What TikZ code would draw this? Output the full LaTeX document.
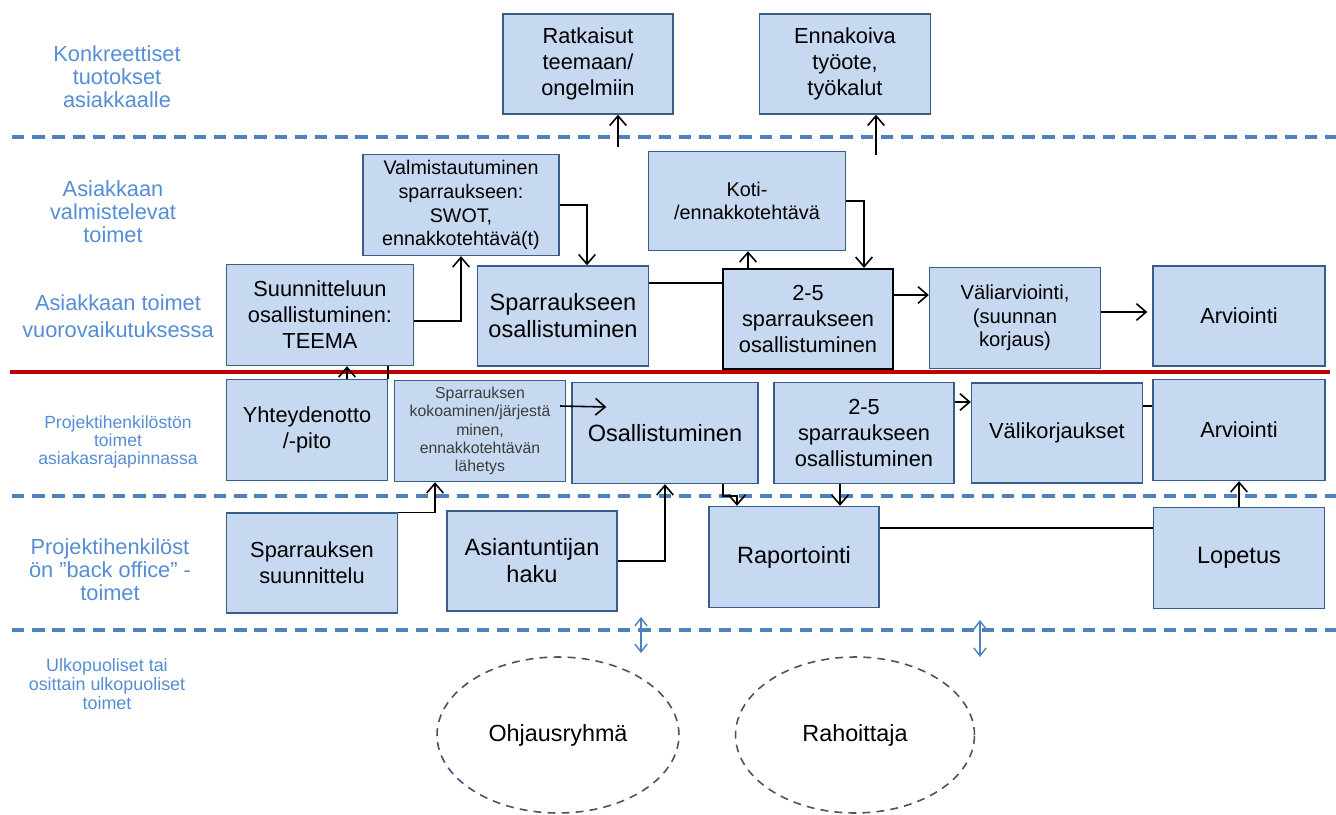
\documentclass[tikz,border=0pt]{standalone}
\usepackage{fontspec}
\setmainfont{Liberation Sans}
\usetikzlibrary{arrows.meta,shapes.geometric}

\definecolor{boxfill}{RGB}{198,217,241}
\definecolor{boxline}{RGB}{56,93,138}
\definecolor{lanetext}{RGB}{85,142,213}
\definecolor{laneline}{RGB}{79,129,189}
\definecolor{redline}{RGB}{192,0,0}
\definecolor{ovalline}{RGB}{68,84,106}
\definecolor{smalltext}{RGB}{60,60,60}

\begin{document}
\begin{tikzpicture}[x=0.02cm,y=-0.02cm,
		box/.style={draw=boxline,fill=boxfill,line width=0.8pt,align=center,inner sep=0pt,
			minimum width=3.42cm,minimum height=2cm,font=\fontsize{12.4}{14.8}\selectfont},
		bigbox/.style={box,font=\fontsize{13.4}{15.4}\selectfont},
		lane/.style={text=lanetext,align=center,font=\fontsize{12.4}{13}\selectfont},
		sepline/.style={draw=laneline,line width=1.8pt,dash pattern=on 7pt off 4.5pt},
		oval/.style={ellipse,draw=ovalline,line width=0.9pt,dash pattern=on 4.5pt off 3.5pt,
			minimum height=3.12cm,font=\fontsize{13.3}{15}\selectfont},
		arr/.style={-{Straight Barb[length=5.5pt,width=9.5pt]},line width=0.9pt},
		link/.style={line width=0.9pt},
		dblarr/.style={{Straight Barb[length=4.5pt,width=7pt]}-{Straight Barb[length=4.5pt,width=7pt]},draw=laneline,line width=0.8pt}]
			\useasboundingbox (0,0) rectangle (1336,815);
			\fill[white] (0,0) rectangle (1336,815);
			% lanes
			\draw[sepline] (12,137) -- (1336,137);
			\draw[draw=redline,line width=1.8pt] (10,372) -- (1330,372);
			\draw[sepline] (12,496) -- (1336,496);
			\draw[sepline] (12,630) -- (1336,630);
			\node[lane] (l1) at (117,77) {Konkreettiset\\tuotokset\\asiakkaalle};
			\node[lane,font=\fontsize{12.4}{13.1}\selectfont] (l2) at (113,212) {Asiakkaan\\valmistelevat\\toimet};
			\node[lane,font=\fontsize{12.4}{15.2}\selectfont] (l3) at (118,316) {Asiakkaan toimet\\vuorovaikutuksessa};
			\node[lane,font=\fontsize{10}{10.4}\selectfont] (l4) at (118,442) {Projektihenkilöstön\\toimet\\asiakasrajapinnassa};
			\node[lane,font=\fontsize{12.4}{13.2}\selectfont] (l5) at (110,570) {Projektihenkilöst\\ön ”back office” -\\toimet};
			\node[lane,font=\fontsize{10.2}{11}\selectfont] (l6) at (107,684) {Ulkopuoliset tai\\osittain ulkopuoliset\\toimet};
			% boxes
			\node[box,minimum width=3.4cm] (rat) at (588,64) {Ratkaisut\\teemaan/\\ongelmiin};
			\node[box] (enn) at (845,64) {Ennakoiva\\työote,\\työkalut};
			\node[box,minimum width=3.92cm,minimum height=2.02cm,font=\fontsize{11.2}{13.6}\selectfont] (valm) at (461,205) {Valmistautuminen\\sparraukseen:\\SWOT,\\ennakkotehtävä(t)};
			\node[box,minimum width=3.94cm,minimum height=1.98cm,font=\fontsize{11.3}{13.3}\selectfont] (koti) at (747,201) {Koti-\\/ennakkotehtävä};
			\node[box,minimum width=3.74cm,minimum height=2.02cm] (suun) at (320,315) {Suunnitteluun\\osallistuminen:\\TEEMA};
			\node[bigbox] (spos) at (563,316) {Sparraukseen\\osallistuminen};
			\node[box,draw=black,line width=1.3pt,minimum width=3.4cm] (kaksiA) at (808,319) {2-5\\sparraukseen\\osallistuminen};
			\node[box,minimum height=2.02cm,font=\fontsize{11.5}{13.3}\selectfont] (vali) at (1015,318) {Väliarviointi,\\(suunnan\\korjaus)};
			\node[box,minimum width=3.44cm] (arvA) at (1239,316) {Arviointi};
			\node[box,minimum width=3.22cm,minimum height=2.02cm] (yht) at (307,430) {Yhteydenotto\\/-pito};
			\node[box,minimum height=2.02cm,text=smalltext,font=\fontsize{9}{10.4}\selectfont] (kok) at (480,431) {Sparrauksen\\kokoaminen/järjestä\\minen,\\ennakkotehtävän\\lähetys};
			\node[bigbox,minimum width=3.72cm,minimum height=2.02cm] (osal) at (665,433) {Osallistuminen};
			\node[box,minimum width=3.6cm,minimum height=2.02cm] (kaksiB) at (864,433) {2-5\\sparraukseen\\osallistuminen};
			\node[box] (valik) at (1057,433) {Välikorjaukset};
			\node[box,minimum width=3.44cm,minimum height=2.02cm] (arvB) at (1239,430) {Arviointi};
			\node[box] (ssuun) at (312,563) {Sparrauksen\\suunnittelu};
			\node[bigbox,minimum width=3.4cm] (asi) at (532,561) {Asiantuntijan\\haku};
			\node[bigbox,minimum width=3.4cm,minimum height=2.02cm] (rap) at (794,557) {Raportointi};
			\node[bigbox,minimum height=2.02cm] (lop) at (1239,558) {Lopetus};
			\node[oval,minimum width=4.84cm] (ohj) at (558,735) {Ohjausryhmä};
			\node[oval,minimum width=4.78cm] (raho) at (855,735) {Rahoittaja};
			% connectors
			\coordinate (p1) at (618,147);
			\coordinate (p2) at (876,155);
			\draw[arr] (p1) -- (p1 |- rat.south);
			\draw[arr] (p2) -- (p2 |- enn.south);
			\draw[arr] ([shift={(0,6)}]suun.east) -| (valm.south);
			\draw[arr] (valm.east) -| ([shift={(24,0)}]spos.north);
			\draw[link] ([shift={(0,-33)}]spos.east) -- ([shift={(0,-36)}]kaksiA.west);
			\coordinate (k1) at ([shift={(-60,0)}]kaksiA.north);
			\draw[arr] (k1) -- (k1 |- koti.south);
			\draw[arr] (koti.east) -| ([shift={(56,0)}]kaksiA.north);
			\draw[arr] ([shift={(0,-24)}]kaksiA.east) -- ([shift={(0,-23)}]vali.west);
			\draw[arr] ([shift={(0,-6)}]vali.east) -- ([shift={(-5,-4)}]arvA.west);
			\coordinate (y1) at ([shift={(40,0)}]yht.north);
			\draw[arr] (y1) -- (y1 |- suun.south);
			\draw[link] (yht.north east) -- (yht.north east |- suun.south);
			\draw[arr] ([shift={(-6,-25)}]kok.east) -- ([shift={(35,-26)}]osal.west);
			\draw[arr] (ssuun.north east) -| ([shift={(-45,0)}]kok.south);
			\draw[arr] (asi.east) -| (osal.south);
			\draw[arr] ([shift={(58,0)}]osal.south) -- ++(0,12) -| ([shift={(-57,0)}]rap.north);
			\coordinate (b1) at ([shift={(-24,0)}]kaksiB.south);
			\draw[arr] (b1) -- (b1 |- rap.north);
			\draw[link] ([shift={(0,-29)}]rap.east) -- ([shift={(0,-30)}]lop.west);
			\draw[arr] (lop.north) -- (arvB.south);
			\draw[arr] ([shift={(0,-31)}]kaksiB.east) -- ([shift={(0,-31)}]valik.west);
			\draw[link] ([shift={(0,-27)}]valik.east) -- ([shift={(0,-24)}]arvB.west);
			% outside
			\coordinate (u1) at (641,617);
			\coordinate (d1) at (641,653);
			\coordinate (u2) at (980,620);
			\coordinate (d2) at (980,657);
			\draw[dblarr] (u1) -- (d1);
			\draw[dblarr] (u2) -- (d2);
		\end{tikzpicture}
\end{document}
